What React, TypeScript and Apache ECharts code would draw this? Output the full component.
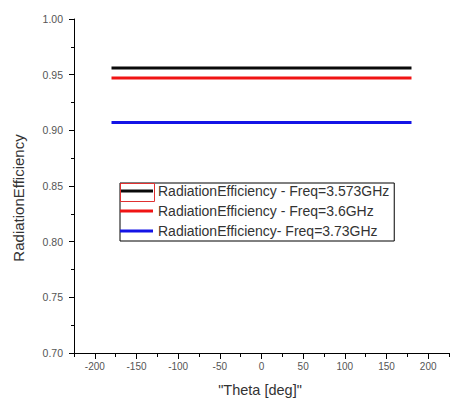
import React, { useEffect, useRef } from "react";
import * as echarts from "echarts";

const theta = [-180, -120, -60, 0, 60, 120, 180];
const effA = [0.956, 0.956, 0.956, 0.956, 0.956, 0.956, 0.956];
const effB = [0.947, 0.947, 0.947, 0.947, 0.947, 0.947, 0.947];
const effC = [0.907, 0.907, 0.907, 0.907, 0.907, 0.907, 0.907];
const seriesNames = [
  "RadiationEfficiency - Freq=3.573GHz",
  "RadiationEfficiency - Freq=3.6GHz",
  "RadiationEfficiency- Freq=3.73GHz",
];
const xMajorTicks = [-200, -150, -100, -50, 0, 50, 100, 150, 200];
const xTitle = '"Theta [deg]"';
const yTitle = "RadiationEfficiency";

const FONT = "'Liberation Sans', Arial, sans-serif";

export default function App() {
  const ref = useRef<HTMLDivElement>(null);
  useEffect(() => {
    if (!ref.current) return;
    const chart = echarts.init(ref.current, undefined, { renderer: "svg" });
    const pts = (vals: number[]) => theta.map((t, i) => [t, vals[i]]);
    const colors = ["#0a0a0a", "#f01414", "#1414e6"];
    const data = [effA, effB, effC];
    chart.setOption({
      animation: false,
      backgroundColor: "#ffffff",
      grid: { left: 74, right: 8, top: 19, bottom: 49 },
      xAxis: [
        {
          type: "value",
          min: -225,
          max: 225,
          interval: 25,
          position: "bottom",
          axisLine: { onZero: false, lineStyle: { color: "#000", width: 1 } },
          axisTick: { length: 4, lineStyle: { color: "#000" } },
          axisLabel: {
            customValues: xMajorTicks,
            color: "#555",
            fontSize: 10,
            fontFamily: FONT,
            margin: 8,
          },
          splitLine: { show: false },
        },
        {
          type: "value",
          min: -225,
          max: 225,
          interval: 25,
          position: "bottom",
          offset: 0,
          axisLine: { show: false, onZero: false },
          axisTick: { customValues: xMajorTicks, length: 6, lineStyle: { color: "#000" } },
          axisLabel: { show: false },
          splitLine: { show: false },
        },
      ],
      yAxis: {
        type: "value",
        min: 0.7,
        max: 1.0,
        interval: 0.05,
        axisLine: { show: true, onZero: false, lineStyle: { color: "#000", width: 1 } },
        axisTick: { show: true, length: 5, lineStyle: { color: "#000" } },
        minorTick: { show: true, splitNumber: 2, length: 3, lineStyle: { color: "#000" } },
        axisLabel: {
          color: "#555",
          fontSize: 10.5,
          fontFamily: FONT,
          margin: 11,
          formatter: (v: number) => v.toFixed(2),
        },
        splitLine: { show: false },
      },
      legend: {
        orient: "vertical",
        left: 120,
        top: 183,
        padding: [0, 5, 2, 0],
        itemGap: 4,
        itemWidth: 33,
        itemHeight: 3,
        icon: "rect",
        borderColor: "#000",
        borderWidth: 1,
        backgroundColor: "#fff",
        textStyle: { color: "#333", fontSize: 14, fontFamily: FONT, lineHeight: 16 },
        data: seriesNames,
      },
      graphic: [
        {
          type: "rect",
          shape: { x: 120.5, y: 183.5, width: 34, height: 18 },
          style: { fill: "none", stroke: "#e03030", lineWidth: 1 },
          z: 100,
        },
        {
          type: "text",
          x: 18,
          y: 198,
          rotation: Math.PI / 2,
          style: {
            text: yTitle,
            fontSize: 15,
            fontFamily: FONT,
            fill: "#333",
            align: "center",
            verticalAlign: "middle",
          },
        },
        {
          type: "text",
          x: 260,
          y: 390,
          style: {
            text: xTitle,
            fontSize: 14.5,
            fontFamily: FONT,
            fill: "#333",
            align: "center",
            verticalAlign: "middle",
          },
        },
      ],
      series: seriesNames.map((name, i) => ({
        name,
        type: "line",
        xAxisIndex: 0,
        data: pts(data[i]),
        showSymbol: false,
        symbol: "none",
        lineStyle: { color: colors[i], width: 3 },
        itemStyle: { color: colors[i] },
      })),
    });
    return () => chart.dispose();
  }, []);
  return <div ref={ref} style={{ width: 457, height: 402, position: "absolute", left: 0, top: 0 }} />;
}
